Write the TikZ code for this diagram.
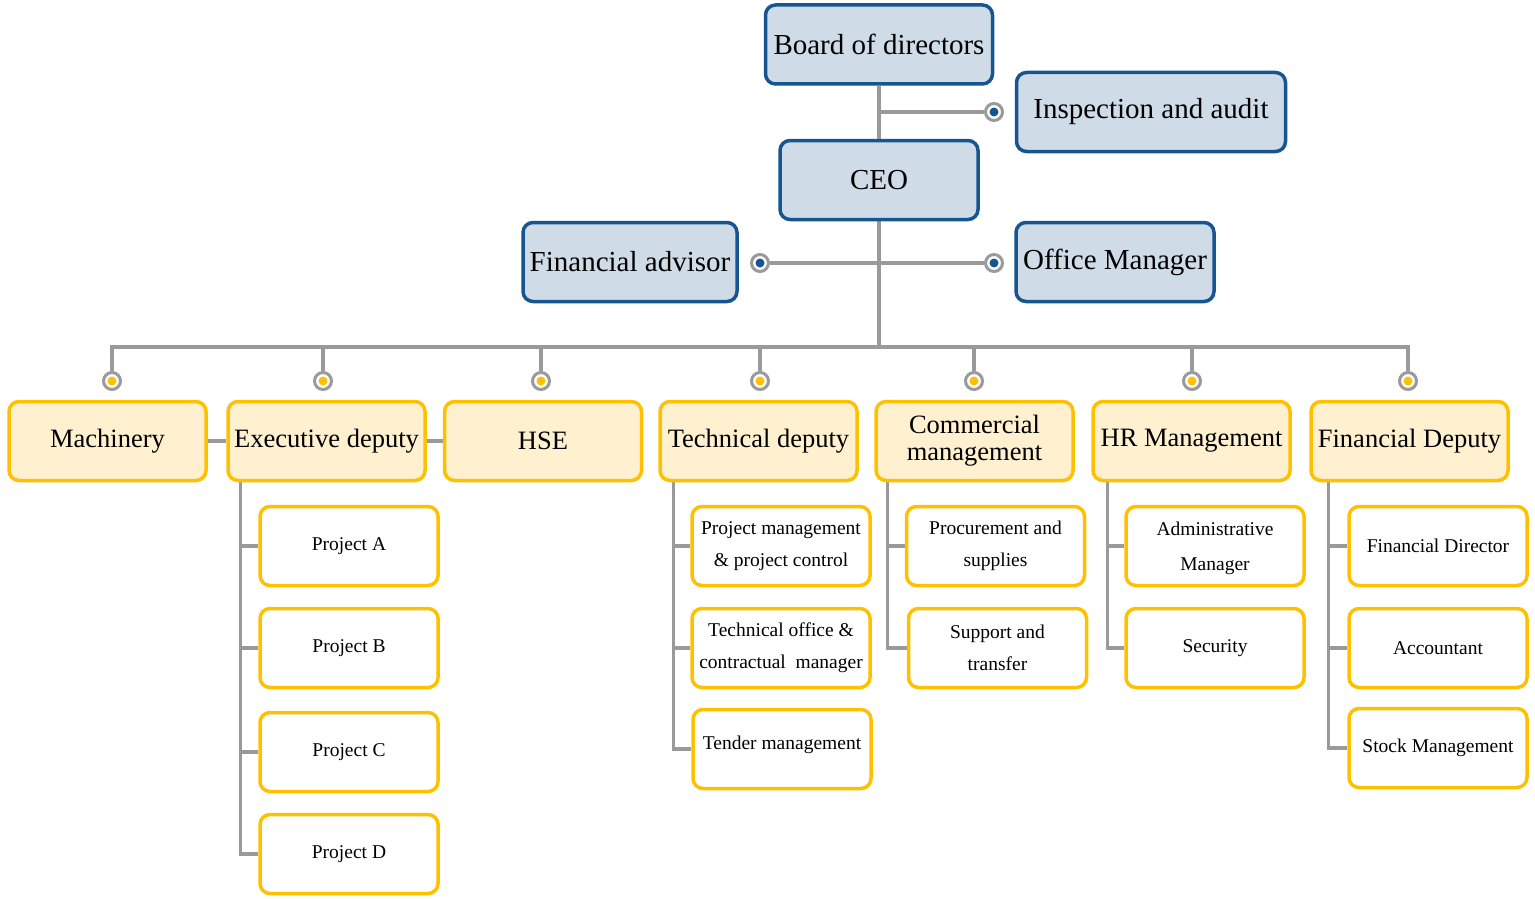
\documentclass[tikz,border=0pt]{standalone}
\usepackage{fontspec}
\setmainfont{Liberation Serif}
\usetikzlibrary{backgrounds}
\definecolor{bluebd}{HTML}{16558F}
\definecolor{bluefill}{HTML}{CFDCE8}
\definecolor{yelbd}{HTML}{FFC000}
\definecolor{yelfill}{HTML}{FFF0CF}
\definecolor{linegray}{HTML}{9A9A9A}
\begin{document}
\begin{tikzpicture}[x=1pt,y=-1pt,
  topbox/.style={draw=bluebd, fill=bluefill, line width=3.5pt, rounded corners=10pt,
    minimum height=79pt, inner sep=1pt, align=center, font=\fontsize{29}{32}\selectfont},
  midbox/.style={draw=yelbd, fill=yelfill, line width=3.5pt, rounded corners=10pt,
    minimum width=197pt, minimum height=79pt, inner sep=1pt, align=center, font=\fontsize{26.5}{27}\selectfont},
  subbox/.style={draw=yelbd, fill=white, line width=3.5pt, rounded corners=10pt,
    minimum width=178pt, minimum height=79pt, inner sep=1pt, align=center, font=\fontsize{19.5}{32}\selectfont},
  conn/.style={draw=linegray, line width=3.5pt},
  dotb/.style={circle, draw=linegray, line width=3pt, fill=white, minimum size=17pt, inner sep=0pt,
    path picture={\fill[bluebd] (path picture bounding box.center) circle (4.5pt);}},
  doty/.style={circle, draw=linegray, line width=3pt, fill=white, minimum size=17pt, inner sep=0pt,
    path picture={\fill[yelbd] (path picture bounding box.center) circle (4.5pt);}}
]
\useasboundingbox (0,0) rectangle (1535,899);

% top level
\node[topbox, minimum width=227pt] (board) at (879,44.5) {Board of directors};
\node[topbox, minimum width=269pt] (insp) at (1151,112) {Inspection and audit};
\node[topbox, minimum width=198pt] (ceo) at (879,180) {CEO};
\node[topbox, minimum width=214pt] (fa) at (630,262) {Financial advisor};
\node[topbox, minimum width=198pt] (om) at (1115,262) {Office Manager};

\node[dotb] (dinsp) at (994,112) {};
\node[dotb] (dfa) at (760,263) {};
\node[dotb] (dom) at (994,263) {};

% level 2
\node[midbox] (mach) at (107.5,441) {Machinery};
\node[midbox] (exec) at (326.5,441) {Executive deputy};
\node[midbox] (hse) at (543,441) {HSE};
\node[midbox] (tech) at (758.5,441) {Technical deputy};
\node[midbox] (comm) at (974.5,441) {Commercial\\management};
\node[midbox] (hr) at (1191.5,441) {HR Management};
\node[midbox] (fin) at (1409.5,441) {Financial Deputy};

\coordinate (bus) at (878,347);
\node[doty] (dmach) at (112,381) {};
\node[doty] (dexec) at (323,381) {};
\node[doty] (dhse) at (541,381) {};
\node[doty] (dtech) at (760,381) {};
\node[doty] (dcomm) at (974,381) {};
\node[doty] (dhr) at (1192,381) {};
\node[doty] (dfin) at (1408,381) {};

% level 3
\node[subbox] (pa) at (349,546) {Project A};
\node[subbox] (pb) at (349,648) {Project B};
\node[subbox] (pc) at (349,752) {Project C};
\node[subbox] (pd) at (349,854) {Project D};

\node[subbox] (pm) at (781,546) {Project management\\\& project control};
\node[subbox] (to) at (781,648) {Technical office \&\\contractual\ \ manager};
\node[subbox, text depth=12pt] (tm) at (782,749) {Tender management};

\node[subbox] (ps) at (995.5,546) {Procurement and\\supplies};
\node[subbox] (st) at (997.5,648) {Support and\\transfer};

\node[subbox, font=\fontsize{19.5}{35}\selectfont, text depth=0pt] (am) at (1215,546) {Administrative\\Manager};
\node[subbox] (sec) at (1215,648) {Security};

\node[subbox] (fd) at (1438,546) {Financial Director};
\node[subbox] (acc) at (1438,648) {Accountant};
\node[subbox] (sm) at (1438,748) {Stock Management};

\begin{pgfonlayer}{background}
  % top connectors
  \draw[conn] (board.south) -- (ceo.north);
  \draw[conn] (dinsp.west) -- (dinsp.west -| board.south);
  \draw[conn] (dfa.east) -- (dom.west);
  \draw[conn] (ceo.south) -- (ceo.south |- bus);
  % bus
  \draw[conn] (dmach.north) |- (bus) -| (dfin.north);
  \foreach \d in {dexec,dhse,dtech,dcomm,dhr} \draw[conn] (\d.north) -- (\d.north |- bus);
  % level 2 side links
  \draw[conn] (mach.east) -- (exec.west);
  \draw[conn] (exec.east) -- (hse.west);
  % level 3
  \foreach \c in {pa,pb,pc,pd} \draw[conn] ([xshift=14pt]exec.south west) |- (\c.west);
  \foreach \c in {pm,to,tm} \draw[conn] ([xshift=15pt]tech.south west) |- (\c.west);
  \foreach \c in {ps,st} \draw[conn] ([xshift=13pt]comm.south west) |- (\c.west);
  \foreach \c in {am,sec} \draw[conn] ([xshift=16pt]hr.south west) |- (\c.west);
  \foreach \c in {fd,acc,sm} \draw[conn] ([xshift=19pt]fin.south west) |- (\c.west);
\end{pgfonlayer}
\end{tikzpicture}
\end{document}
